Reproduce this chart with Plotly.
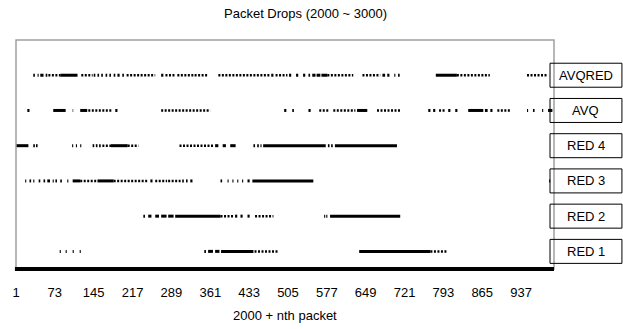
import plotly.graph_objects as go

# ---- data (packet offsets) ----
rows = ["RED 1", "RED 2", "RED 3", "RED 4", "AVQ", "AVQRED"]
tick_vals = [1, 73, 145, 217, 289, 361, 433, 505, 577, 649, 721, 793, 865, 937]
tick_text = [str(v) for v in tick_vals]

# dense runs of drops (solid) and sparse runs (dotted): [start, end]
avqred_solid = [[33, 36], [41, 43], [46, 52], [56, 59], [83, 115], [145, 148], [152, 155], [159, 162],
                [167, 170], [174, 177], [182, 185], [189, 193], [198, 201], [270, 274], [474, 478],
                [507, 511], [520, 524], [533, 537], [543, 546], [550, 556], [558, 565], [567, 578],
                [680, 685], [689, 693], [702, 704], [709, 712], [779, 818]]
avqred_dotted = [[61, 83], [122, 143], [206, 217], [219, 259], [278, 296], [300, 330], [332, 356],
                 [376, 472], [482, 504], [578, 626], [643, 676], [818, 879], [948, 987]]

avq_solid = [[22, 26], [70, 93], [106, 107], [120, 133], [185, 189], [498, 502], [513, 516], [543, 547],
             [633, 652], [765, 769], [774, 778], [802, 806], [815, 819], [839, 867], [870, 875],
             [880, 884], [948, 950], [959, 962], [976, 978], [987, 995]]
avq_dotted = [[135, 180], [270, 361], [563, 580], [589, 630], [670, 713], [785, 796], [893, 917]]

red4_solid = [[1, 24], [33, 36], [38, 41], [105, 107], [112, 114], [120, 122], [143, 146], [149, 152],
              [155, 158], [177, 208], [370, 376], [384, 390], [398, 408], [441, 444], [448, 451],
              [454, 456], [459, 575], [579, 582], [585, 588], [592, 707]]
red4_dotted = [[161, 177], [208, 228], [304, 367]]

red3_solid = [[18, 20], [26, 29], [33, 35], [43, 46], [52, 55], [59, 64], [69, 71], [74, 77], [83, 86],
              [96, 98], [106, 120], [152, 182], [250, 254], [309, 312], [316, 319], [324, 328],
              [380, 383], [393, 395], [402, 404], [411, 413], [420, 422], [430, 434], [439, 552],
              [989, 991]]
red3_dotted = [[120, 152], [182, 245], [259, 281], [283, 306]]

red2_solid = [[237, 240], [246, 252], [259, 266], [270, 280], [283, 293], [296, 380], [407, 411],
              [417, 421], [430, 434], [572, 574], [576, 578], [583, 713]]
red2_dotted = [[380, 404], [444, 478]]

red1_solid = [[82, 84], [93, 95], [106, 108], [119, 121], [350, 353], [357, 366], [370, 378],
              [381, 441], [637, 769]]
red1_dotted = [[443, 487], [769, 800]]

solid_runs = [red1_solid, red2_solid, red3_solid, red4_solid, avq_solid, avqred_solid]
dotted_runs = [red1_dotted, red2_dotted, red3_dotted, red4_dotted, avq_dotted, avqred_dotted]

# ---- figure ----
FONT = "Liberation Sans, Arial, sans-serif"
L, R, T, B = 15.5, 69, 40, 60
W, H = 623, 329
PW = W - L - R
PH = H - T - B
Y0, Y1 = 0.5, 7.0
upx = PH / (Y1 - Y0)

fig = go.Figure()


def seg_xy(runs, yv):
    xs, ys = [], []
    for s, e in runs:
        xs += [s, e, None]
        ys += [yv, yv, None]
    return xs, ys


for i, name in enumerate(rows):
    yv = i + 1
    xs, ys = seg_xy(solid_runs[i], yv)
    fig.add_trace(go.Scatter(x=xs, y=ys, mode="lines", line=dict(color="black", width=3),
                             hoverinfo="skip", showlegend=False))
    xs, ys = seg_xy(dotted_runs[i], yv)
    fig.add_trace(go.Scatter(x=xs, y=ys, mode="lines",
                             line=dict(color="black", width=2.5, dash="2px,1.5px"),
                             hoverinfo="skip", showlegend=False))

shapes = [
    dict(type="rect", xref="paper", yref="paper", x0=0, x1=1, y0=0, y1=1,
         line=dict(color="#a0a0a0", width=1.5)),
    dict(type="line", xref="paper", yref="paper", x0=-0.002, x1=1, y0=0, y1=0,
         line=dict(color="black", width=4)),
]
annotations = []
bx0 = (550 - L) / PW
bx1 = (622 - L) / PW
half = 12 / upx
for i, name in enumerate(rows):
    yv = i + 1
    shapes.append(dict(type="rect", xref="paper", yref="y", x0=bx0, x1=bx1,
                       y0=yv - half, y1=yv + half, line=dict(color="black", width=1)))
    annotations.append(dict(xref="paper", yref="y", x=(bx0 + bx1) / 2, y=yv, text=name,
                            showarrow=False, xanchor="center", yanchor="middle",
                            font=dict(family=FONT, size=13, color="black")))

annotations.append(dict(xref="paper", yref="paper", x=(305 - L) / PW, y=1, yshift=27,
                        text="Packet Drops (2000 ~ 3000)", showarrow=False,
                        xanchor="center", yanchor="middle",
                        font=dict(family=FONT, size=13, color="black")))
annotations.append(dict(xref="paper", yref="paper", x=0.5, y=0, yshift=-46,
                        text="2000 + nth packet", showarrow=False,
                        xanchor="center", yanchor="middle",
                        font=dict(family=FONT, size=13, color="black")))

fig.update_layout(
    width=W, height=H,
    margin=dict(l=L, r=R, t=T, b=B, pad=0),
    paper_bgcolor="white", plot_bgcolor="white",
    shapes=shapes, annotations=annotations,
    xaxis=dict(range=[1, 998], tickvals=tick_vals, ticktext=tick_text, showgrid=False,
               zeroline=False, showline=False, ticks="", ticklabelstandoff=14,
               tickfont=dict(family=FONT, size=13, color="black")),
    yaxis=dict(range=[Y0, Y1], showgrid=False, zeroline=False, showline=False,
               showticklabels=False, ticks=""),
)

fig.write_html("out.html")
